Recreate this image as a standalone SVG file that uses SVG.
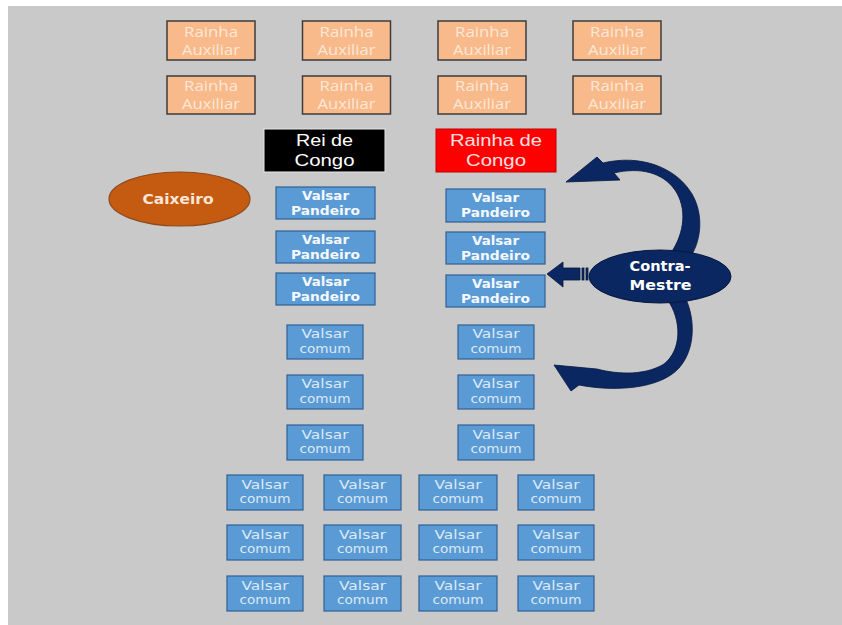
<svg xmlns="http://www.w3.org/2000/svg" width="842" height="625" viewBox="0 0 842 625">
<defs>
<style>
.aux rect{fill:#f8b98b;stroke:#3d3d3d;stroke-width:1.5}
.aux text{font-family:"Open Sans","Liberation Sans",sans-serif;font-size:14.5px;fill:#fde8d6;text-anchor:middle}
.pan rect{fill:#5b9bd5;stroke:#2f5f96;stroke-width:1.2}
.pan text{font-family:"DejaVu Sans","Liberation Sans",sans-serif;font-weight:bold;font-size:12.5px;fill:#f4f8fc;text-anchor:middle}
.com rect{fill:#5b9bd5;stroke:#2f5f96;stroke-width:1.2}
.com text{font-family:"DejaVu Sans","Liberation Sans",sans-serif;font-size:12.5px;fill:#dce9f6;text-anchor:middle}
.big text{font-family:"Liberation Sans","Open Sans",sans-serif;font-size:16px;text-anchor:middle}
.ell text{font-family:"DejaVu Sans","Liberation Sans",sans-serif;font-weight:bold;font-size:14px;text-anchor:middle}
.arr{fill:#0b2761;stroke:#06173d;stroke-width:0.8}
</style>
</defs>
<rect x="0" y="0" width="842" height="625" fill="#ffffff"/>
<rect x="8" y="6" width="834" height="619" fill="#c9c9c9"/>

<!-- Rainha Auxiliar -->
<g id="aux1" class="aux"><rect x="167" y="21" width="88" height="39"/><text x="211" y="36.5" textLength="54" lengthAdjust="spacingAndGlyphs">Rainha</text><text x="211" y="55" textLength="58" lengthAdjust="spacingAndGlyphs">Auxiliar</text></g>
<g id="aux2" class="aux"><rect x="302.5" y="21" width="88" height="39"/><text x="346.5" y="36.5" textLength="54" lengthAdjust="spacingAndGlyphs">Rainha</text><text x="346.5" y="55" textLength="58" lengthAdjust="spacingAndGlyphs">Auxiliar</text></g>
<g id="aux3" class="aux"><rect x="438" y="21" width="88" height="39"/><text x="482" y="36.5" textLength="54" lengthAdjust="spacingAndGlyphs">Rainha</text><text x="482" y="55" textLength="58" lengthAdjust="spacingAndGlyphs">Auxiliar</text></g>
<g id="aux4" class="aux"><rect x="573" y="21" width="88" height="39"/><text x="617" y="36.5" textLength="54" lengthAdjust="spacingAndGlyphs">Rainha</text><text x="617" y="55" textLength="58" lengthAdjust="spacingAndGlyphs">Auxiliar</text></g>
<g id="aux5" class="aux"><rect x="167" y="76" width="88" height="38"/><text x="211" y="91" textLength="54" lengthAdjust="spacingAndGlyphs">Rainha</text><text x="211" y="109.3" textLength="58" lengthAdjust="spacingAndGlyphs">Auxiliar</text></g>
<g id="aux6" class="aux"><rect x="302.5" y="76" width="88" height="38"/><text x="346.5" y="91" textLength="54" lengthAdjust="spacingAndGlyphs">Rainha</text><text x="346.5" y="109.3" textLength="58" lengthAdjust="spacingAndGlyphs">Auxiliar</text></g>
<g id="aux7" class="aux"><rect x="438" y="76" width="88" height="38"/><text x="482" y="91" textLength="54" lengthAdjust="spacingAndGlyphs">Rainha</text><text x="482" y="109.3" textLength="58" lengthAdjust="spacingAndGlyphs">Auxiliar</text></g>
<g id="aux8" class="aux"><rect x="573" y="76" width="88" height="38"/><text x="617" y="91" textLength="54" lengthAdjust="spacingAndGlyphs">Rainha</text><text x="617" y="109.3" textLength="58" lengthAdjust="spacingAndGlyphs">Auxiliar</text></g>

<!-- Rei / Rainha de Congo -->
<g id="rei" class="big"><rect x="264" y="129" width="121" height="43" fill="#000000" stroke="#e8e8e8" stroke-width="1"/><text x="324.5" y="146" fill="#ffffff" textLength="57" lengthAdjust="spacingAndGlyphs">Rei de</text><text x="324.5" y="166" fill="#ffffff" textLength="60" lengthAdjust="spacingAndGlyphs">Congo</text></g>
<g id="rainha" class="big"><rect x="436" y="129" width="120" height="43" fill="#ff0000" stroke="#c00000" stroke-width="1"/><text x="496" y="146" fill="#ffe0e0" textLength="92" lengthAdjust="spacingAndGlyphs">Rainha de</text><text x="496" y="166" fill="#ffe0e0" textLength="60" lengthAdjust="spacingAndGlyphs">Congo</text></g>

<!-- Caixeiro -->
<g id="caixeiro" class="ell"><ellipse cx="179.5" cy="199" rx="70.5" ry="27" fill="#c55a11" stroke="#8f4a1c" stroke-width="1.2"/><text x="178" y="203.5" fill="#fbe5d6" textLength="71" lengthAdjust="spacingAndGlyphs">Caixeiro</text></g>

<!-- Valsar Pandeiro -->
<g id="pan1" class="pan"><rect x="276" y="187" width="99" height="32"/><text x="325.5" y="199.5" textLength="47" lengthAdjust="spacingAndGlyphs">Valsar</text><text x="325.5" y="214.5" textLength="69" lengthAdjust="spacingAndGlyphs">Pandeiro</text></g>
<g id="pan2" class="pan"><rect x="276" y="231" width="99" height="32"/><text x="325.5" y="243.5" textLength="47" lengthAdjust="spacingAndGlyphs">Valsar</text><text x="325.5" y="258.5" textLength="69" lengthAdjust="spacingAndGlyphs">Pandeiro</text></g>
<g id="pan3" class="pan"><rect x="276" y="273" width="99" height="32"/><text x="325.5" y="285.5" textLength="47" lengthAdjust="spacingAndGlyphs">Valsar</text><text x="325.5" y="300.5" textLength="69" lengthAdjust="spacingAndGlyphs">Pandeiro</text></g>
<g id="pan4" class="pan"><rect x="446" y="189" width="99" height="33"/><text x="495.5" y="201.7" textLength="47" lengthAdjust="spacingAndGlyphs">Valsar</text><text x="495.5" y="216.7" textLength="69" lengthAdjust="spacingAndGlyphs">Pandeiro</text></g>
<g id="pan5" class="pan"><rect x="446" y="232" width="99" height="32"/><text x="495.5" y="244.7" textLength="47" lengthAdjust="spacingAndGlyphs">Valsar</text><text x="495.5" y="259.7" textLength="69" lengthAdjust="spacingAndGlyphs">Pandeiro</text></g>
<g id="pan6" class="pan"><rect x="446" y="275" width="99" height="32"/><text x="495.5" y="287.7" textLength="47" lengthAdjust="spacingAndGlyphs">Valsar</text><text x="495.5" y="302.7" textLength="69" lengthAdjust="spacingAndGlyphs">Pandeiro</text></g>

<!-- Valsar comum, middle columns -->
<g id="com1" class="com"><rect x="287" y="325" width="76" height="34"/><text x="325" y="338.3" textLength="47" lengthAdjust="spacingAndGlyphs">Valsar</text><text x="325" y="352.7" textLength="51" lengthAdjust="spacingAndGlyphs">comum</text></g>
<g id="com2" class="com"><rect x="287" y="375" width="76" height="34"/><text x="325" y="388.3" textLength="47" lengthAdjust="spacingAndGlyphs">Valsar</text><text x="325" y="402.7" textLength="51" lengthAdjust="spacingAndGlyphs">comum</text></g>
<g id="com3" class="com"><rect x="287" y="425" width="76" height="35"/><text x="325" y="438.5" textLength="47" lengthAdjust="spacingAndGlyphs">Valsar</text><text x="325" y="453" textLength="51" lengthAdjust="spacingAndGlyphs">comum</text></g>
<g id="com4" class="com"><rect x="458" y="325" width="76" height="34"/><text x="496" y="338.3" textLength="47" lengthAdjust="spacingAndGlyphs">Valsar</text><text x="496" y="352.7" textLength="51" lengthAdjust="spacingAndGlyphs">comum</text></g>
<g id="com5" class="com"><rect x="458" y="375" width="76" height="34"/><text x="496" y="388.3" textLength="47" lengthAdjust="spacingAndGlyphs">Valsar</text><text x="496" y="402.7" textLength="51" lengthAdjust="spacingAndGlyphs">comum</text></g>
<g id="com6" class="com"><rect x="458" y="425" width="76" height="35"/><text x="496" y="438.5" textLength="47" lengthAdjust="spacingAndGlyphs">Valsar</text><text x="496" y="453" textLength="51" lengthAdjust="spacingAndGlyphs">comum</text></g>

<!-- Valsar comum, bottom grid -->
<g id="com7" class="com"><rect x="227" y="475" width="76" height="35"/><text x="265" y="488.5" textLength="47" lengthAdjust="spacingAndGlyphs">Valsar</text><text x="265" y="503" textLength="51" lengthAdjust="spacingAndGlyphs">comum</text></g>
<g id="com8" class="com"><rect x="324" y="475" width="77" height="35"/><text x="362.5" y="488.5" textLength="47" lengthAdjust="spacingAndGlyphs">Valsar</text><text x="362.5" y="503" textLength="51" lengthAdjust="spacingAndGlyphs">comum</text></g>
<g id="com9" class="com"><rect x="419" y="475" width="78" height="35"/><text x="458" y="488.5" textLength="47" lengthAdjust="spacingAndGlyphs">Valsar</text><text x="458" y="503" textLength="51" lengthAdjust="spacingAndGlyphs">comum</text></g>
<g id="com10" class="com"><rect x="518" y="475" width="76" height="35"/><text x="556" y="488.5" textLength="47" lengthAdjust="spacingAndGlyphs">Valsar</text><text x="556" y="503" textLength="51" lengthAdjust="spacingAndGlyphs">comum</text></g>
<g id="com11" class="com"><rect x="227" y="525" width="76" height="35"/><text x="265" y="538.5" textLength="47" lengthAdjust="spacingAndGlyphs">Valsar</text><text x="265" y="553" textLength="51" lengthAdjust="spacingAndGlyphs">comum</text></g>
<g id="com12" class="com"><rect x="324" y="525" width="77" height="35"/><text x="362.5" y="538.5" textLength="47" lengthAdjust="spacingAndGlyphs">Valsar</text><text x="362.5" y="553" textLength="51" lengthAdjust="spacingAndGlyphs">comum</text></g>
<g id="com13" class="com"><rect x="419" y="525" width="78" height="35"/><text x="458" y="538.5" textLength="47" lengthAdjust="spacingAndGlyphs">Valsar</text><text x="458" y="553" textLength="51" lengthAdjust="spacingAndGlyphs">comum</text></g>
<g id="com14" class="com"><rect x="518" y="525" width="76" height="35"/><text x="556" y="538.5" textLength="47" lengthAdjust="spacingAndGlyphs">Valsar</text><text x="556" y="553" textLength="51" lengthAdjust="spacingAndGlyphs">comum</text></g>
<g id="com15" class="com"><rect x="227" y="576" width="76" height="35"/><text x="265" y="589.5" textLength="47" lengthAdjust="spacingAndGlyphs">Valsar</text><text x="265" y="604" textLength="51" lengthAdjust="spacingAndGlyphs">comum</text></g>
<g id="com16" class="com"><rect x="324" y="576" width="77" height="35"/><text x="362.5" y="589.5" textLength="47" lengthAdjust="spacingAndGlyphs">Valsar</text><text x="362.5" y="604" textLength="51" lengthAdjust="spacingAndGlyphs">comum</text></g>
<g id="com17" class="com"><rect x="419" y="576" width="78" height="35"/><text x="458" y="589.5" textLength="47" lengthAdjust="spacingAndGlyphs">Valsar</text><text x="458" y="604" textLength="51" lengthAdjust="spacingAndGlyphs">comum</text></g>
<g id="com18" class="com"><rect x="518" y="576" width="76" height="35"/><text x="556" y="589.5" textLength="47" lengthAdjust="spacingAndGlyphs">Valsar</text><text x="556" y="604" textLength="51" lengthAdjust="spacingAndGlyphs">comum</text></g>

<!-- connectors -->
<g id="connectors">
<path class="arr" d="M566,182 L597,157 L603,163 C640,154 676,167 692,194 C704,215 701,240 691,256 L671,253 C685,232 687,208 675,190 C662,172 640,167 614,173 L620,180 Z"/>
<path class="arr" d="M667,299 C682,320 682,350 664,364 C646,375 620,375 597,369 L554,365 L571,391 L579,385 C615,392 660,389 679,368 C695,350 696,320 685,297 Z"/>
<path class="arr" d="M547,274 L563,262 L563,268 L580,268 L580,280 L563,280 L563,287 Z"/>
<rect class="arr" x="582" y="268" width="2" height="12"/>
<rect class="arr" x="586" y="268" width="2" height="12"/>
</g>

<!-- Contra-Mestre -->
<g id="contramestre" class="ell"><ellipse cx="660" cy="276.5" rx="71" ry="26.5" fill="#0b2761" stroke="#06173d" stroke-width="1"/><text x="660" y="271" fill="#ffffff" textLength="61" lengthAdjust="spacingAndGlyphs">Contra-</text><text x="660.5" y="290" fill="#ffffff" textLength="62" lengthAdjust="spacingAndGlyphs">Mestre</text></g>
</svg>
